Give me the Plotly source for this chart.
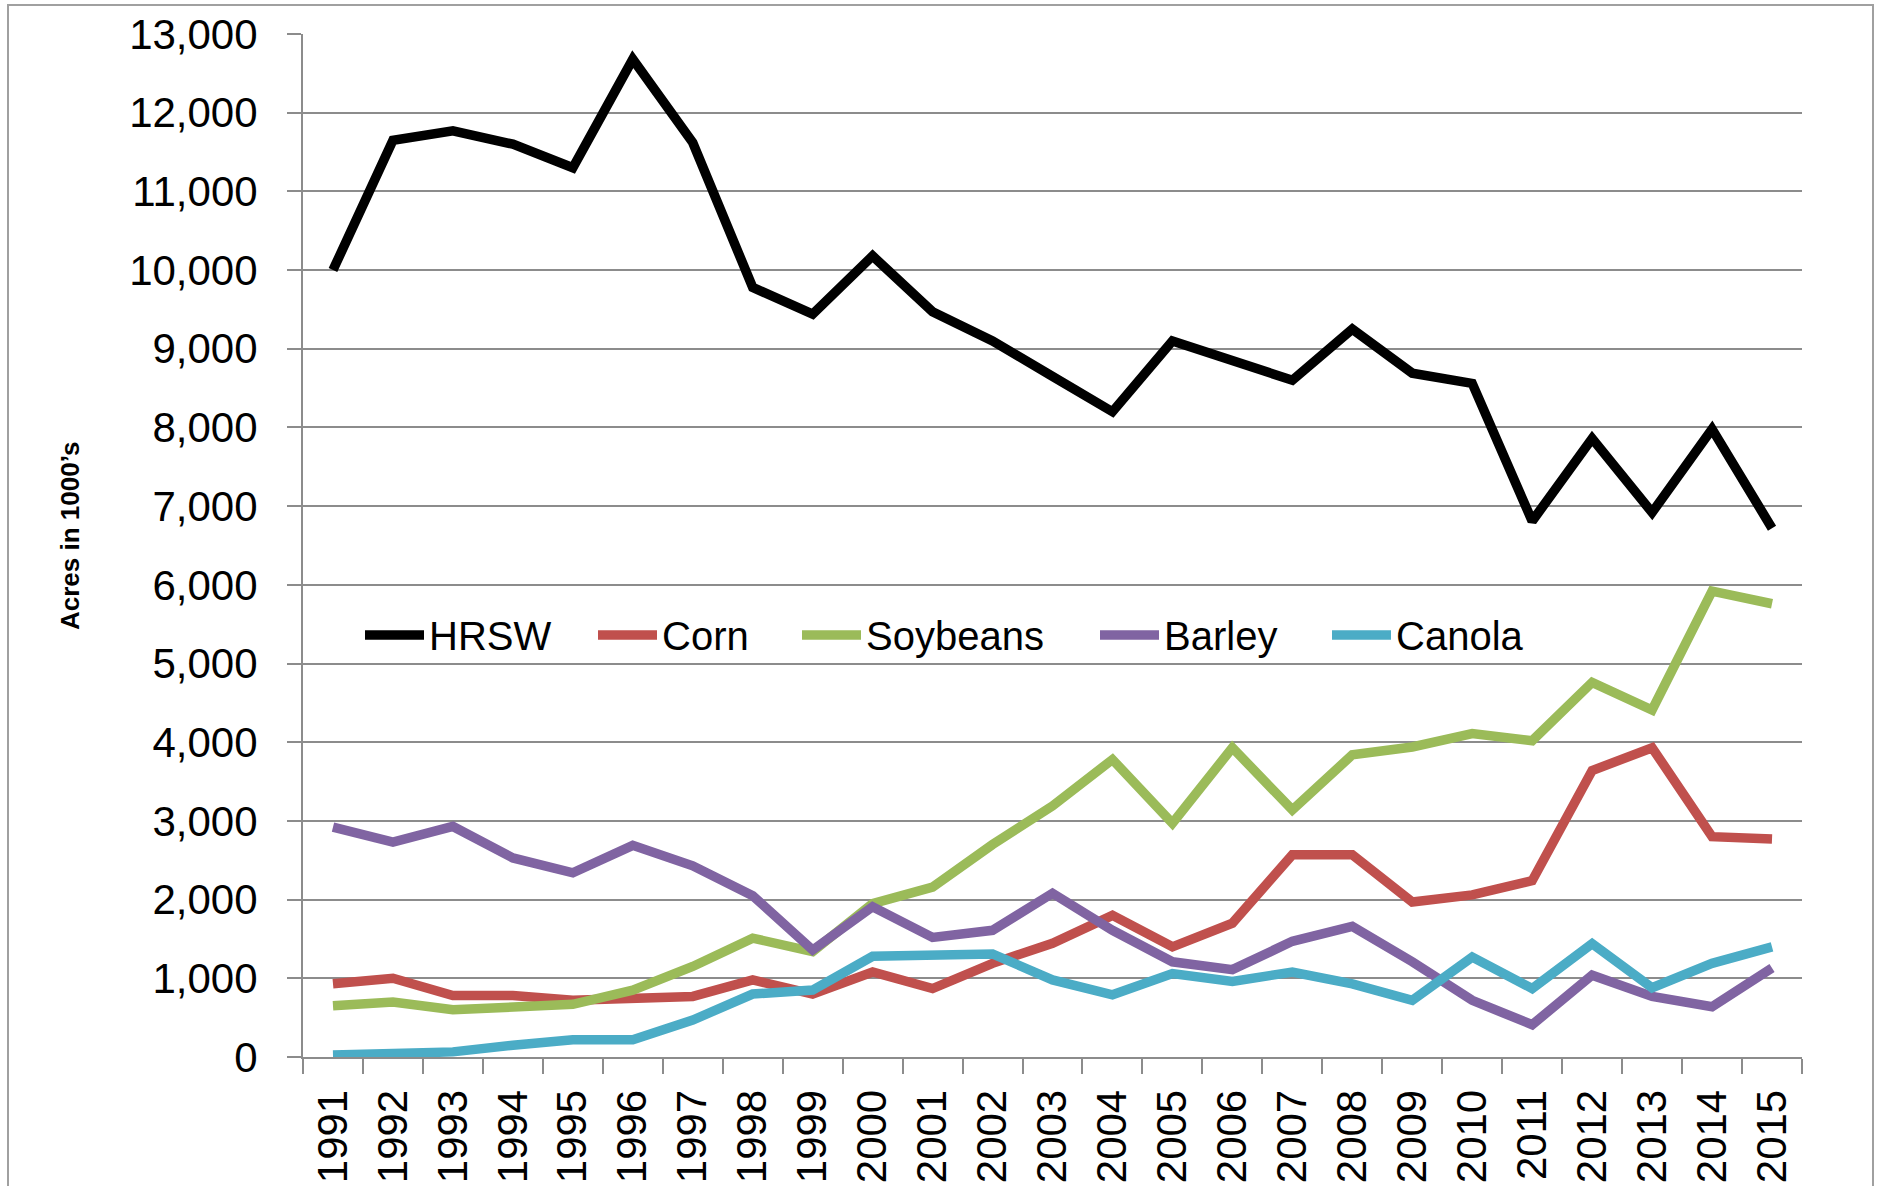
import plotly.graph_objects as go

# Planted acreage by crop, 1991-2015 (thousands of acres)
years = [str(y) for y in range(1991, 2016)]

hrsw = [10000, 11650, 11770, 11600, 11300, 12680, 11620, 9780, 9440, 10180,
        9470, 9100, 8650, 8200, 9100, 8840, 8600, 9250, 8690, 8560,
        6810, 7860, 6920, 7980, 6720]
corn = [930, 1000, 780, 780, 720, 760, 770, 980, 800, 1080,
        870, 1190, 1445, 1800, 1400, 1700, 2570, 2570, 1970, 2060,
        2240, 3640, 3930, 2800, 2770]
soybeans = [650, 700, 600, 640, 670, 850, 1150, 1510, 1340, 1950,
            2160, 2700, 3190, 3780, 2970, 3930, 3140, 3840, 3940, 4110,
            4020, 4760, 4410, 5920, 5760]
barley = [2920, 2730, 2930, 2530, 2340, 2690, 2430, 2050, 1360, 1910,
          1520, 1610, 2080, 1610, 1210, 1110, 1470, 1660, 1210, 720,
          410, 1040, 770, 640, 1130]
canola = [25, 30, 65, 150, 220, 220, 470, 800, 850, 1280,
          1310, 1310, 980, 790, 1060, 960, 1080, 930, 720, 1270,
          870, 1440, 880, 1190, 1400]

series_names = ["HRSW", "Corn", "Soybeans", "Barley", "Canola"]
series_values = [hrsw, corn, soybeans, barley, canola]
series_colors = ["#000000", "#C0504D", "#9BBB59", "#8064A2", "#4BACC6"]

y_ticks = list(range(0, 13001, 1000))

# Canvas / plot-area geometry (pixels)
W, H = 1877, 1186
L, R, T, B = 303, 75, 34, 129
PW, PH = W - L - R, H - T - B


def px_x(p):
    return (p - L) / PW


def px_y(p):
    return (H - B - p) / PH


GRID = "#8C8C8C"
TICK_FONT = "Liberation Sans, Arial, sans-serif"
LINE_W = 9.5

fig = go.Figure()
for name, vals, color in zip(series_names, series_values, series_colors):
    fig.add_trace(go.Scatter(
        x=years, y=vals, name=name, mode="lines",
        line=dict(color=color, width=LINE_W),
        showlegend=False,
    ))

# Legend drawn inside the plot area as a single row
legend_x = [365, 598, 802, 1100, 1332]
legend_y = 635
shapes = []
annotations = []
for name, color, lx in zip(series_names, series_colors, legend_x):
    shapes.append(dict(
        type="line", xref="paper", yref="paper",
        x0=px_x(lx), x1=px_x(lx + 59), y0=px_y(legend_y), y1=px_y(legend_y),
        line=dict(color=color, width=LINE_W),
    ))
    annotations.append(dict(
        text=name, xref="paper", yref="paper",
        x=px_x(lx + 62), y=px_y(legend_y + 1),
        xanchor="left", yanchor="middle", showarrow=False,
        font=dict(family=TICK_FONT, size=40, color="#000000"),
    ))

# Y axis title
annotations.append(dict(
    text="Acres in 1000’s", xref="paper", yref="paper",
    x=px_x(70), y=px_y(536), textangle=-90,
    xanchor="center", yanchor="middle", showarrow=False,
    font=dict(family=TICK_FONT, size=26, color="#000000", weight="bold"),
))

# Outer chart frame
shapes.append(dict(
    type="rect", xref="paper", yref="paper",
    x0=px_x(8), x1=px_x(1873), y0=px_y(1240), y1=px_y(5),
    line=dict(color="#A0A0A0", width=2), fillcolor="rgba(0,0,0,0)",
    layer="below",
))

fig.update_layout(
    width=W, height=H,
    margin=dict(l=L, r=R, t=T, b=B, autoexpand=False),
    paper_bgcolor="white", plot_bgcolor="white",
    showlegend=False,
    shapes=shapes,
    annotations=annotations,
    xaxis=dict(
        type="category", range=[-0.5, 24.5],
        showgrid=False, zeroline=False,
        showline=True, linecolor=GRID, linewidth=2,
        ticks="outside", tickson="boundaries", ticklen=15,
        tickcolor=GRID, tickwidth=2,
        tickangle=-90, automargin=False,
        tickfont=dict(family=TICK_FONT, size=42, color="#000000"),
        ticklabelstandoff=14,
    ),
    yaxis=dict(
        range=[0, 13000], tickvals=y_ticks, tickformat=",",
        showgrid=True, gridcolor=GRID, gridwidth=2,
        zeroline=False,
        showline=True, linecolor=GRID, linewidth=2,
        ticks="outside", ticklen=14, tickcolor=GRID, tickwidth=2,
        automargin=False,
        tickfont=dict(family=TICK_FONT, size=42, color="#000000"),
        ticklabelstandoff=21,
    ),
)

fig.write_html("out.html")
